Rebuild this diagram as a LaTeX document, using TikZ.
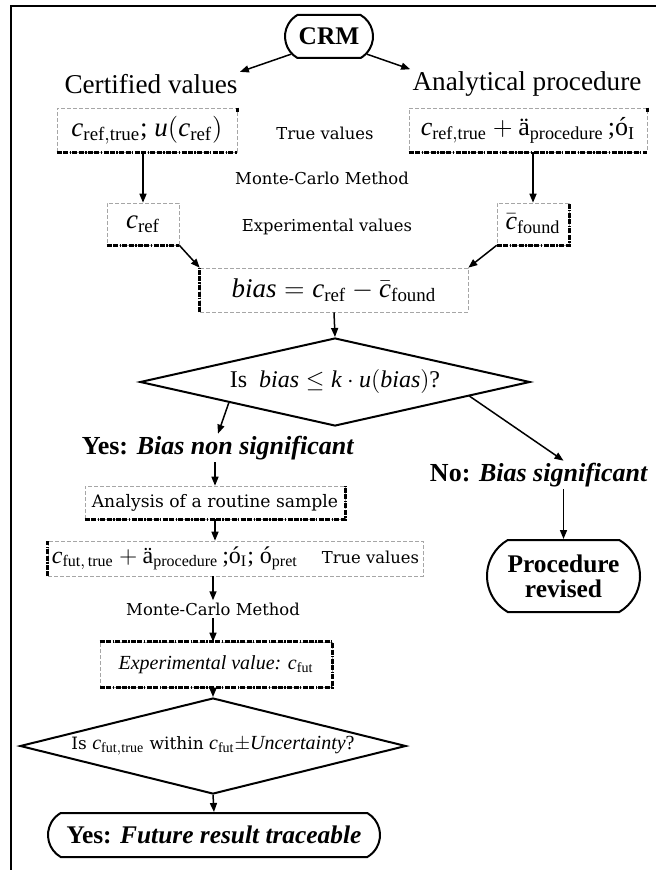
\RequirePackage{fix-cm}
\documentclass[tikz,border=0pt]{standalone}
\usepackage{amsmath}
\usepackage{fontspec}
\setmainfont{Liberation Serif}
\newfontfamily\widefont{DejaVu Serif}
\usetikzlibrary{shapes.geometric, shapes.misc, arrows.meta, positioning}

\begin{document}
\begin{tikzpicture}[x=0.5pt, y=-0.5pt,
    term/.style={rounded rectangle, rounded rectangle arc length=120, draw, line width=1pt, inner sep=0pt, font=\bfseries\fontsize{12.7}{12.5}\selectfont},
    valbox/.style={rectangle, draw=gray!70, dash pattern=on 2pt off 1pt, line width=0.3pt, inner sep=0pt},
    heavy/.style={line width=1.25pt, dash pattern=on 2.5pt off 0.7pt on 2.5pt off 0.7pt on 0.7pt off 0.7pt},
    decision/.style={diamond, draw, line width=1pt, inner sep=0pt},
    flow/.style={-{Triangle[length=4.5pt, width=3.5pt]}, line width=0.75pt},
    plain/.style={inner sep=1pt, font=\widefont\fontsize{8.2}{9}\selectfont},
    big/.style={inner sep=1pt, font=\fontsize{13.6}{15}\selectfont},
    verdict/.style={inner sep=1pt, font=\bfseries\fontsize{13}{15}\selectfont}
  ]
    \useasboundingbox (0,0) rectangle (655,870);

    % frame
    \draw[line width=1pt] (11,880) -- (11,6) -- (665,6);

    % CRM and the two branches
    \node[term, minimum width=44pt, minimum height=21.5pt] (crm) at (329,36.5) {CRM};
    \node[big] (certified) at (151,84) {Certified values};
    \node[big] (analytical) at (527,84) {Analytical procedure};

    % true values
    \node[valbox, minimum width=90pt, minimum height=22pt, font=\fontsize{13.5}{15}\selectfont] (cert) at (147,130)
      {$\mathit{c}_{\mathrm{ref,true}}$; $\mathit{u}(\mathit{c}_{\mathrm{ref}})$};
    \node[valbox, minimum width=119pt, minimum height=22pt, font=\fontsize{13}{15}\selectfont] (anal) at (528,130)
      {$\mathit{c}_{\mathrm{ref,true}} + \text{ä}_{\mathrm{procedure}}$\,;ó$_{\mathrm{I}}$};
    \node[plain] (truevals) at (325,133) {True values};
    \node[plain] (monteA) at (322,178) {Monte-Carlo Method};

    % experimental values
    \node[valbox, minimum width=36pt, minimum height=21pt, font=\fontsize{13.5}{15}\selectfont] (cref) at (143,224) {$\mathit{c}_{\mathrm{ref}}$};
    \node[valbox, minimum width=36pt, minimum height=21pt, font=\fontsize{13}{15}\selectfont] (cfound) at (533,224) {$\bar{\mathit{c}}_{\mathrm{found}}$};
    \node[plain] (expvals) at (327,227) {Experimental values};

    \node[valbox, minimum width=134pt, minimum height=22pt, font=\fontsize{13.5}{15}\selectfont] (bias) at (334,290)
      {$\mathit{bias} = \mathit{c}_{\mathrm{ref}} - \bar{\mathit{c}}_{\mathrm{found}}$};

    % first test
    \node[decision, minimum width=195pt, minimum height=44pt, aspect=4.4, font=\fontsize{12}{14}\selectfont] (dia1) at (335,382)
      {Is\ \ $\mathit{bias} \le \mathit{k}\cdot \mathit{u}(\mathit{bias})$?};
    \node[verdict] (yes) at (218,448) {Yes: \textit{Bias non significant}};
    \node[verdict] (no) at (539,475) {No: \textit{Bias significant}};
    \node[term, align=center, minimum width=76.5pt, minimum height=36pt] (proc) at (563.5,576) {Procedure\\revised};

    % routine sample
    \node[valbox, minimum width=130pt, minimum height=16.5pt, plain, font=\widefont\fontsize{8.6}{10}\selectfont] (analysis) at (215,502.5)
      {Analysis of a routine sample};
    \node[valbox, minimum width=187.5pt, minimum height=17.5pt, font=\fontsize{12}{14}\selectfont] (cfut) at (235.5,558.5)
      {$\mathit{c}_{\mathrm{fut,\,true}} + \text{ä}_{\mathrm{procedure}}$\,;ó$_{\mathrm{I}}$; ó$_{\mathrm{pret}}$\quad{\widefont\fontsize{8.2}{9}\selectfont True values}};
    \node[plain] (monteB) at (213,609) {Monte-Carlo Method};
    \node[valbox, minimum width=116pt, minimum height=22.5pt, font=\itshape\fontsize{10}{12}\selectfont] (exp) at (216,664.5)
      {Experimental value: $\mathit{c}_{\mathrm{fut}}$};

    % second test
    \node[decision, minimum width=193pt, minimum height=48pt, aspect=4, font=\fontsize{10}{12}\selectfont] (dia2) at (213,746)
      {{\widefont\fontsize{8.5}{10}\selectfont Is }$\mathit{c}_{\mathrm{fut,true}}${\widefont\fontsize{8.5}{10}\selectfont\ within }$\mathit{c}_{\mathrm{fut}}\pm$\textit{Uncertainty}?};
    \node[term, minimum width=166pt, minimum height=22pt] (final) at (214,835) {Yes: \textit{Future result traceable}};

    % heavy edges of the value boxes
    \draw[heavy] (cert.south west) -- (cert.south east);
    \draw[heavy] (cert.north east) -- ++(0,4);
    \draw[heavy] (anal.south west) -- (anal.south east);
    \draw[heavy] (anal.north east) -- ++(0,4);
    \draw[heavy] (cref.south west) -- (cref.south east);
    \draw[heavy] (cfound.south west) -- (cfound.south east) -- (cfound.north east);
    \draw[heavy] (bias.south west) -- (bias.north west);
    \draw[heavy] (analysis.south west) -- (analysis.south east) -- (analysis.north east);
    \draw[heavy] (cfut.south west) -- (cfut.north west);
    \draw[heavy] (exp.north west) -- (exp.north east) -- (exp.south east) -- (exp.south west);

    % flows
    \draw[flow] (crm.205) -- (certified.north east);
    \draw[flow] (crm.335) -- (analytical.north west);
    \draw[flow] (cert.south -| cref.north) -- (cref.north);
    \draw[flow] (anal.south -| cfound.north) -- (cfound.north);
    \draw[flow] (cref.south east) -- (bias.north west);
    \draw[flow] (cfound.south west) -- (bias.north east);
    \draw[flow] (bias.south) -- (dia1.north);
    \draw[flow] (dia1.191) -- (yes.north);
    \draw[flow] (dia1.354) -- (proc.north |- no.north);
    \draw[flow] (no.south -| proc.north) -- (proc.north);
    \draw[flow] (yes.south -| analysis.north) -- (analysis.north);
    \draw[flow] (analysis.south) -- (analysis.south |- cfut.north);
    \draw[flow] (cfut.south -| monteB.north) -- (monteB.north);
    \draw[flow] (monteB.south) -- (exp.north -| monteB.south);
    \draw[flow] (exp.south -| dia2.north) -- (dia2.north);
    \draw[flow] (dia2.south) -- (final.north);

\end{tikzpicture}
\end{document}
